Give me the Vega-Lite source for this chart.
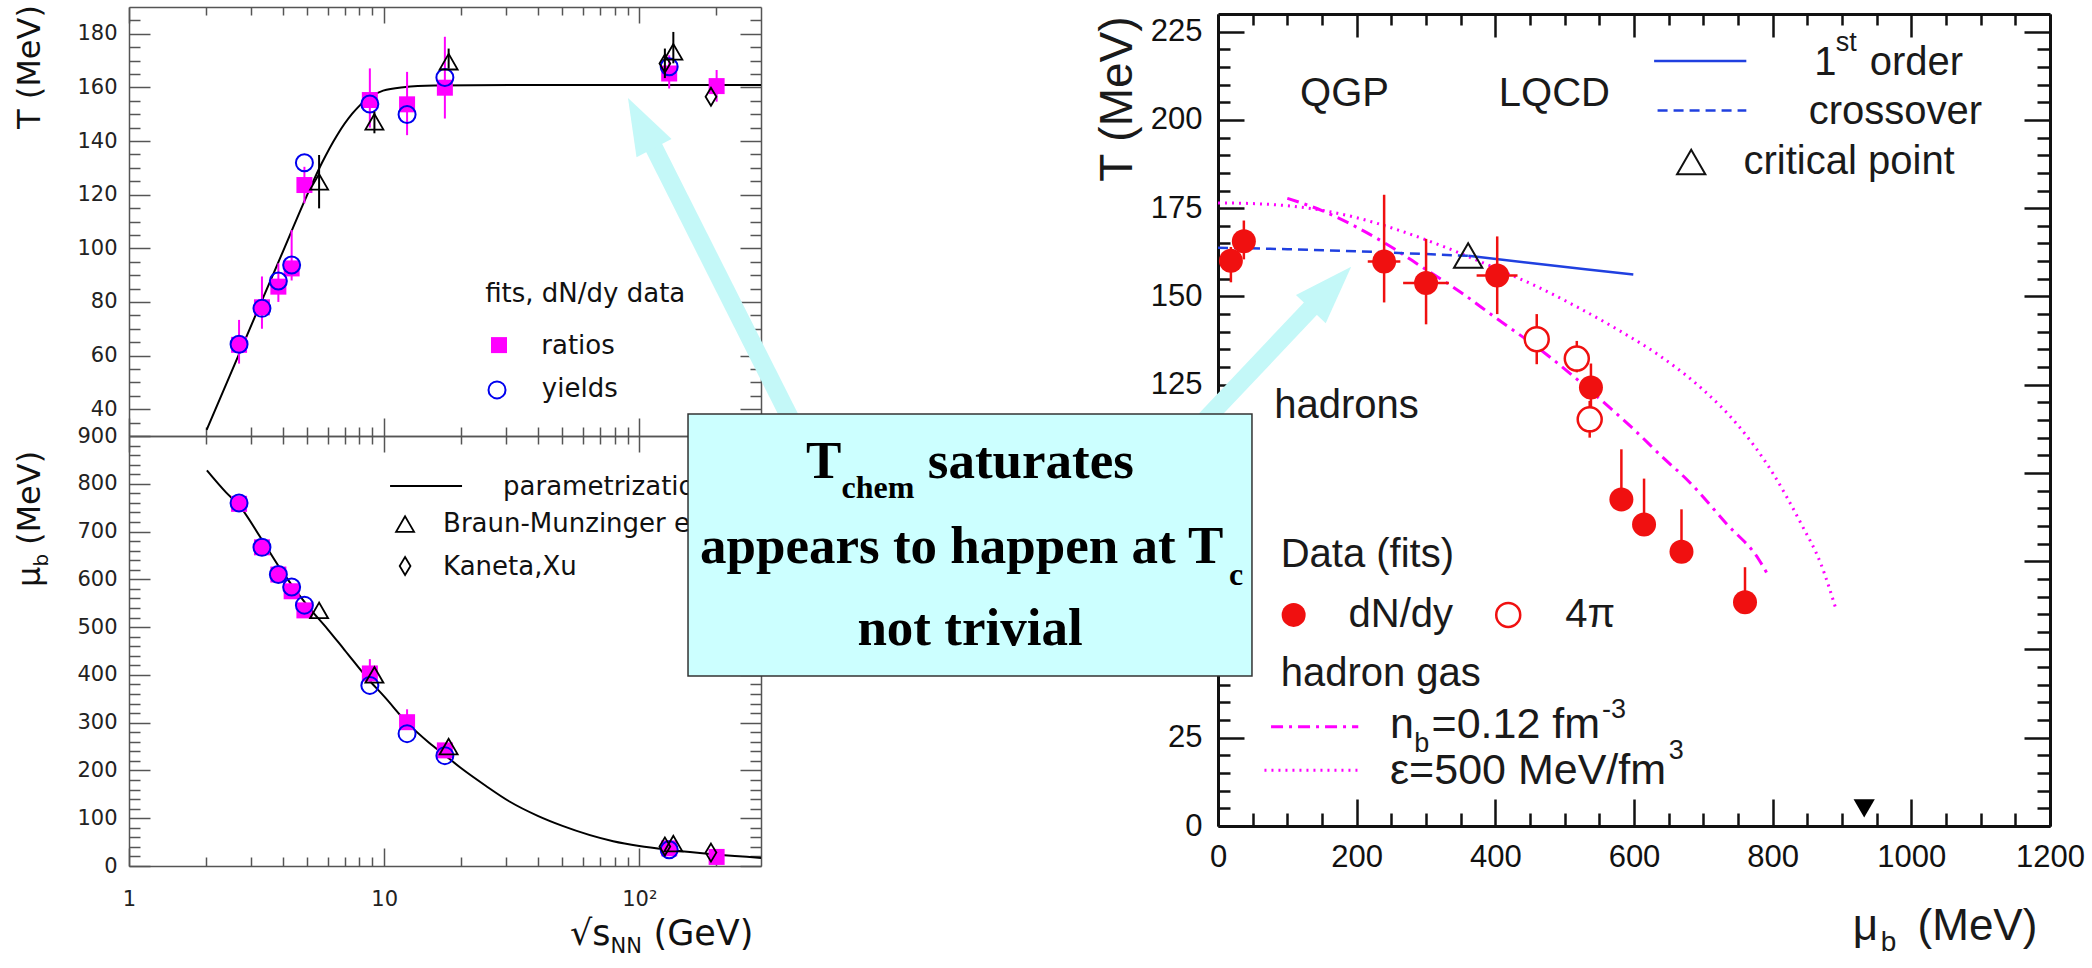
{
"$schema": "https://vega.github.io/schema/vega-lite/v6.json",
"width": 2092, "height": 968, "autosize": {"type": "none"}, "padding": 0, "background": "white",
"config": {"view": {"stroke": null}, "axis": {"grid": false, "labelFlush": false, "labelOverlap": false}},
"datasets": {
"tcurve": [{"s":2.016,"T":32.3},{"s":2.482,"T":52.4},{"s":3.126,"T":74.8},{"s":3.937,"T":97.0},{"s":4.96,"T":119.3},{"s":5.694,"T":131.7},{"s":6.542,"T":142.2},{"s":7.512,"T":150.3},{"s":8.628,"T":155.9},{"s":9.908,"T":158.8},{"s":11.92,"T":160.1},{"s":15.72,"T":160.7},{"s":31.5,"T":160.9},{"s":300,"T":160.9}],
"tratio": [{"s":2.70,"T":64.0,"lo":57,"hi":73.3},{"s":3.32,"T":78.0,"lo":70,"hi":89.5},{"s":3.85,"T":85.7,"lo":80,"hi":94.4},{"s":4.34,"T":92.5,"lo":88,"hi":106.8},{"s":4.87,"T":123.6,"lo":116.8,"hi":130.4},{"s":8.79,"T":155.3,"lo":145,"hi":167.1},{"s":12.3,"T":153.7,"lo":142.2,"hi":165.8},{"s":17.3,"T":159.9,"lo":148.4,"hi":178.9},{"s":131,"T":165.2,"lo":159.6,"hi":172},{"s":201,"T":160.5,"lo":154.7,"hi":166.5}],
"tyield": [{"s":2.70,"T":64.2},{"s":3.32,"T":77.6},{"s":3.85,"T":87.8},{"s":4.34,"T":93.8},{"s":4.87,"T":131.9},{"s":8.79,"T":153.8},{"s":12.3,"T":149.9},{"s":17.3,"T":163.7},{"s":131,"T":167.7}],
"tbm": [{"s":5.56,"T":124.8,"lo":114.9,"hi":134.8},{"s":9.16,"T":147.2,"lo":142.9,"hi":151},{"s":17.9,"T":169.6,"lo":167,"hi":174.5},{"s":136,"T":173.3,"lo":169,"hi":180.7}],
"tkx": [{"s":126,"T":168.9,"lo":163.5,"hi":174.5},{"s":191,"T":156.5,"lo":156.5,"hi":156.5}],
"mucurve": [{"s":2.02,"mu":828},{"s":2.4,"mu":782},{"s":2.7,"mu":755},{"s":3.3,"mu":685},{"s":4.0,"mu":615},{"s":5.0,"mu":545},{"s":6.0,"mu":496},{"s":7.0,"mu":452},{"s":8.8,"mu":387},{"s":10,"mu":355},{"s":12.3,"mu":300},{"s":15,"mu":258},{"s":17.3,"mu":232},{"s":20,"mu":205},{"s":25,"mu":168},{"s":31,"mu":135},{"s":40,"mu":105},{"s":50,"mu":84},{"s":79,"mu":52},{"s":100,"mu":42},{"s":130,"mu":34},{"s":200,"mu":24},{"s":300,"mu":17}],
"muratio": [{"s":2.70,"mu":758},{"s":3.32,"mu":667},{"s":3.85,"mu":610},{"s":4.34,"mu":575},{"s":4.87,"mu":535},{"s":8.79,"mu":403},{"s":12.3,"mu":301},{"s":17.3,"mu":242},{"s":131,"mu":37},{"s":201,"mu":19}],
"muratioerr": [{"s":2.70,"lo":745,"hi":775},{"s":8.79,"lo":385,"hi":433},{"s":12.3,"lo":285,"hi":328}],
"muyield": [{"s":2.70,"mu":760},{"s":3.32,"mu":667},{"s":3.85,"mu":610},{"s":4.34,"mu":584},{"s":4.87,"mu":546},{"s":8.79,"mu":378},{"s":12.3,"mu":277},{"s":17.3,"mu":231},{"s":131,"mu":34}],
"mubm": [{"s":5.56,"mu":535},{"s":9.16,"mu":400},{"s":17.9,"mu":250},{"s":136,"mu":47}],
"mukx": [{"s":126,"mu":41},{"s":191,"mu":28}],
"eps": [{"mu":0,"T":176.5},{"mu":50,"T":176.3},{"mu":100,"T":175.7},{"mu":150,"T":174.4},{"mu":200,"T":172.3},{"mu":260,"T":168.8},{"mu":323,"T":164.3},{"mu":400,"T":158.0},{"mu":460,"T":152.8},{"mu":520,"T":146.8},{"mu":580,"T":140.2},{"mu":640,"T":132.8},{"mu":700,"T":123.5},{"mu":750,"T":113.5},{"mu":800,"T":100.0},{"mu":840,"T":86.0},{"mu":870,"T":74.0},{"mu":892,"T":61.0}],
"nb": [{"mu":100,"T":177.8},{"mu":150,"T":174.3},{"mu":202,"T":169.4},{"mu":250,"T":164.0},{"mu":296,"T":158.1},{"mu":350,"T":151.2},{"mu":398,"T":144.3},{"mu":473,"T":133.7},{"mu":547,"T":121.6},{"mu":600,"T":112.3},{"mu":641,"T":104.5},{"mu":678,"T":97.8},{"mu":734,"T":85.5},{"mu":780,"T":75.5},{"mu":794,"T":70.8}],
"xover": [{"mu":0,"T":163.8},{"mu":100,"T":163.4},{"mu":200,"T":162.8},{"mu":300,"T":162.0},{"mu":361,"T":161.5}],
"first": [{"mu":361,"T":161.5},{"mu":454,"T":159.4},{"mu":530,"T":157.7},{"mu":599,"T":156.2}],
"dndy": [{"mu":18.6,"T":160.1,"lo":154.0,"hi":164.0},{"mu":37.3,"T":165.6,"lo":160.5,"hi":171.5},{"mu":239.6,"T":159.9,"lo":148.3,"hi":178.8},{"mu":300.1,"T":153.8,"lo":142.1,"hi":166.3},{"mu":402.7,"T":155.9,"lo":145.0,"hi":167.0},{"mu":537.9,"T":124.2,"lo":117.5,"hi":131.0},{"mu":581.8,"T":92.5,"lo":90.0,"hi":106.7},{"mu":614.5,"T":85.4,"lo":83.5,"hi":98.4},{"mu":668.5,"T":77.7,"lo":75.5,"hi":89.7},{"mu":760.1,"T":63.4,"lo":61.0,"hi":73.3}],
"dndyh": [{"mu":216,"mu2":263,"T":159.9},{"mu":267,"mu2":333,"T":153.8},{"mu":373,"mu2":432,"T":155.9},{"mu":745,"mu2":775,"T":63.4}],
"fourpi": [{"mu":459.7,"T":137.9,"lo":130.8,"hi":145.0},{"mu":517.5,"T":132.4,"lo":128.5,"hi":137.4},{"mu":536.1,"T":115.2,"lo":110.0,"hi":120.4}]
},
"resolve": {"scale": {"x": "independent", "y": "independent"}, "axis": {"x": "independent", "y": "independent"}},
"layer": [
{
"resolve": {"scale": {"x": "shared", "y": "shared"}, "axis": {"x": "independent", "y": "independent"}},
"layer": [
{"data": {"name": "tcurve"}, "mark": {"type": "line", "color": "#000", "strokeWidth": 2, "interpolate": "monotone"},
 "encoding": {
  "x": {"field": "s", "type": "quantitative", "scale": {"type": "log", "domain": [1, 300], "range": [129, 761], "nice": false},
        "axis": {"orient": "bottom", "offset": -532, "values": [1, 10, 100], "labels": false, "tickSize": -18, "tickColor": "#555", "tickWidth": 1.5, "domain": true, "domainColor": "#555", "domainWidth": 1.5, "title": null}},
  "y": {"field": "T", "type": "quantitative", "scale": {"domain": [30, 190], "range": [436, 7], "nice": false, "zero": false},
        "axis": {"orient": "left", "offset": -129, "values": [40, 60, 80, 100, 120, 140, 160, 180], "format": "d", "labelFont": "DejaVu Sans", "labelFontSize": 21, "labelColor": "#222", "labelPadding": 33, "tickSize": -21, "tickColor": "#555", "tickWidth": 1.5, "domain": true, "domainColor": "#555", "domainWidth": 1.5, "title": null}}}},
{"data": {"name": "tratio"}, "mark": {"type": "rule", "color": "#FF00FF", "strokeWidth": 2},
 "encoding": {
  "x": {"field": "s", "type": "quantitative", "scale": {"type": "log", "domain": [1, 300], "range": [129, 761], "nice": false},
        "axis": {"orient": "bottom", "offset": -532, "values": [2, 3, 4, 5, 6, 7, 8, 9, 20, 30, 40, 50, 60, 70, 80, 90, 200], "labels": false, "tickSize": -9, "tickColor": "#555", "tickWidth": 1.5, "domain": false, "title": null}},
  "y": {"field": "lo", "type": "quantitative", "scale": {"domain": [30, 190], "range": [436, 7], "nice": false, "zero": false},
        "axis": {"orient": "left", "offset": -129, "values": [35, 45, 50, 55, 65, 70, 75, 85, 90, 95, 105, 110, 115, 125, 130, 135, 145, 150, 155, 165, 170, 175, 185], "labels": false, "tickSize": -11, "tickColor": "#555", "tickWidth": 1.5, "domain": false, "title": null}},
  "y2": {"field": "hi"}}},
{"data": {"name": "tratio"}, "mark": {"type": "point", "shape": "square", "size": 256, "filled": true, "color": "#FF00FF", "opacity": 1},
 "encoding": {
  "x": {"field": "s", "type": "quantitative", "scale": {"type": "log", "domain": [1, 300], "range": [129, 761], "nice": false},
        "axis": {"orient": "top", "offset": -7, "values": [1, 10, 100], "labels": false, "tickSize": -16, "tickColor": "#555", "tickWidth": 1.5, "domain": true, "domainColor": "#555", "domainWidth": 1.5, "title": null}},
  "y": {"field": "T", "type": "quantitative", "scale": {"domain": [30, 190], "range": [436, 7], "nice": false, "zero": false},
        "axis": {"orient": "right", "offset": -1331, "values": [40, 60, 80, 100, 120, 140, 160, 180], "labels": false, "tickSize": -21, "tickColor": "#555", "tickWidth": 1.5, "domain": true, "domainColor": "#555", "domainWidth": 1.5, "title": null}}}},
{"data": {"name": "tyield"}, "mark": {"type": "point", "shape": "circle", "size": 289, "filled": false, "color": "#0000EE", "strokeWidth": 2, "opacity": 1},
 "encoding": {
  "x": {"field": "s", "type": "quantitative", "scale": {"type": "log", "domain": [1, 300], "range": [129, 761], "nice": false},
        "axis": {"orient": "top", "offset": -7, "values": [2, 3, 4, 5, 6, 7, 8, 9, 20, 30, 40, 50, 60, 70, 80, 90, 200], "labels": false, "tickSize": -8, "tickColor": "#555", "tickWidth": 1.5, "domain": false, "title": null}},
  "y": {"field": "T", "type": "quantitative", "scale": {"domain": [30, 190], "range": [436, 7], "nice": false, "zero": false},
        "axis": {"orient": "right", "offset": -1331, "values": [35, 45, 50, 55, 65, 70, 75, 85, 90, 95, 105, 110, 115, 125, 130, 135, 145, 150, 155, 165, 170, 175, 185], "labels": false, "tickSize": -11, "tickColor": "#555", "tickWidth": 1.5, "domain": false, "title": null}}}},
{"data": {"name": "tbm"}, "mark": {"type": "rule", "color": "#000", "strokeWidth": 2},
 "encoding": {
  "x": {"field": "s", "type": "quantitative", "scale": {"type": "log", "domain": [1, 300], "range": [129, 761], "nice": false}, "axis": null},
  "y": {"field": "lo", "type": "quantitative", "scale": {"domain": [30, 190], "range": [436, 7], "nice": false, "zero": false}, "axis": null},
  "y2": {"field": "hi"}}},
{"data": {"name": "tbm"}, "mark": {"type": "point", "shape": "triangle-up", "size": 324, "filled": false, "color": "#000", "strokeWidth": 1.8, "opacity": 1},
 "encoding": {
  "x": {"field": "s", "type": "quantitative", "scale": {"type": "log", "domain": [1, 300], "range": [129, 761], "nice": false}, "axis": null},
  "y": {"field": "T", "type": "quantitative", "scale": {"domain": [30, 190], "range": [436, 7], "nice": false, "zero": false}, "axis": null}}},
{"data": {"name": "tkx"}, "mark": {"type": "rule", "color": "#000", "strokeWidth": 2},
 "encoding": {
  "x": {"field": "s", "type": "quantitative", "scale": {"type": "log", "domain": [1, 300], "range": [129, 761], "nice": false}, "axis": null},
  "y": {"field": "lo", "type": "quantitative", "scale": {"domain": [30, 190], "range": [436, 7], "nice": false, "zero": false}, "axis": null},
  "y2": {"field": "hi"}}},
{"data": {"name": "tkx"}, "mark": {"type": "point", "shape": "M0,-1L0.6,0L0,1L-0.6,0Z", "size": 324, "filled": false, "color": "#000", "strokeWidth": 1.8, "opacity": 1},
 "encoding": {
  "x": {"field": "s", "type": "quantitative", "scale": {"type": "log", "domain": [1, 300], "range": [129, 761], "nice": false}, "axis": null},
  "y": {"field": "T", "type": "quantitative", "scale": {"domain": [30, 190], "range": [436, 7], "nice": false, "zero": false}, "axis": null}}},
{"data": {"values": [{"s": 24.9, "T": 80.0, "label": "fits, dN/dy data"}, {"s": 41.3, "T": 60.6, "label": "ratios"}, {"s": 41.5, "T": 44.5, "label": "yields"}]},
 "mark": {"type": "text", "align": "left", "baseline": "alphabetic", "font": "DejaVu Sans", "fontSize": 26, "color": "#111"},
 "encoding": {
  "x": {"field": "s", "type": "quantitative", "scale": {"type": "log", "domain": [1, 300], "range": [129, 761], "nice": false}, "axis": null},
  "y": {"field": "T", "type": "quantitative", "scale": {"domain": [30, 190], "range": [436, 7], "nice": false, "zero": false}, "axis": null},
  "text": {"field": "label"}}},
{"data": {"values": [{"s": 28.2, "T": 63.9}]}, "mark": {"type": "point", "shape": "square", "size": 256, "filled": true, "color": "#FF00FF", "opacity": 1},
 "encoding": {
  "x": {"field": "s", "type": "quantitative", "scale": {"type": "log", "domain": [1, 300], "range": [129, 761], "nice": false}, "axis": null},
  "y": {"field": "T", "type": "quantitative", "scale": {"domain": [30, 190], "range": [436, 7], "nice": false, "zero": false}, "axis": null}}},
{"data": {"values": [{"s": 27.7, "T": 47.2}]}, "mark": {"type": "point", "shape": "circle", "size": 289, "filled": false, "color": "#0000EE", "strokeWidth": 2, "opacity": 1},
 "encoding": {
  "x": {"field": "s", "type": "quantitative", "scale": {"type": "log", "domain": [1, 300], "range": [129, 761], "nice": false}, "axis": null},
  "y": {"field": "T", "type": "quantitative", "scale": {"domain": [30, 190], "range": [436, 7], "nice": false, "zero": false}, "axis": null}}},
{"data": {"values": [{"s": 0.4478, "T": 167.6, "label": "T (MeV)"}]},
 "mark": {"type": "text", "align": "center", "baseline": "alphabetic", "angle": 270, "font": "DejaVu Sans", "fontSize": 32, "color": "#111"},
 "encoding": {
  "x": {"field": "s", "type": "quantitative", "scale": {"type": "log", "domain": [1, 300], "range": [129, 761], "nice": false}, "axis": null},
  "y": {"field": "T", "type": "quantitative", "scale": {"domain": [30, 190], "range": [436, 7], "nice": false, "zero": false}, "axis": null},
  "text": {"field": "label"}}}
]
},
{
"resolve": {"scale": {"x": "shared", "y": "shared"}, "axis": {"x": "independent", "y": "independent"}},
"layer": [
{"data": {"name": "mucurve"}, "mark": {"type": "line", "color": "#000", "strokeWidth": 2, "interpolate": "monotone"},
 "encoding": {
  "x": {"field": "s", "type": "quantitative", "scale": {"type": "log", "domain": [1, 300], "range": [129, 761], "nice": false},
        "axis": {"orient": "bottom", "offset": -102, "values": [1, 10, 100], "labelExpr": "datum.value == 100 ? '10²' : format(datum.value, 'd')", "labelFont": "DejaVu Sans", "labelFontSize": 21, "labelColor": "#222", "labelPadding": 40, "tickSize": -18, "tickColor": "#555", "tickWidth": 1.5, "domain": true, "domainColor": "#555", "domainWidth": 1.5, "title": null}},
  "y": {"field": "mu", "type": "quantitative", "scale": {"domain": [0, 900], "range": [866, 436], "nice": false, "zero": false},
        "axis": {"orient": "left", "offset": -129, "values": [0, 100, 200, 300, 400, 500, 600, 700, 800, 900], "format": "d", "labelFont": "DejaVu Sans", "labelFontSize": 21, "labelColor": "#222", "labelPadding": 33, "tickSize": -21, "tickColor": "#555", "tickWidth": 1.5, "domain": true, "domainColor": "#555", "domainWidth": 1.5, "title": null}}}},
{"data": {"name": "muratioerr"}, "mark": {"type": "rule", "color": "#FF00FF", "strokeWidth": 2},
 "encoding": {
  "x": {"field": "s", "type": "quantitative", "scale": {"type": "log", "domain": [1, 300], "range": [129, 761], "nice": false},
        "axis": {"orient": "bottom", "offset": -102, "values": [2, 3, 4, 5, 6, 7, 8, 9, 20, 30, 40, 50, 60, 70, 80, 90, 200], "labels": false, "tickSize": -9, "tickColor": "#555", "tickWidth": 1.5, "domain": false, "title": null}},
  "y": {"field": "lo", "type": "quantitative", "scale": {"domain": [0, 900], "range": [866, 436], "nice": false, "zero": false},
        "axis": {"orient": "left", "offset": -129, "values": [20, 40, 60, 80, 120, 140, 160, 180, 220, 240, 260, 280, 320, 340, 360, 380, 420, 440, 460, 480, 520, 540, 560, 580, 620, 640, 660, 680, 720, 740, 760, 780, 820, 840, 860, 880], "labels": false, "tickSize": -11, "tickColor": "#555", "tickWidth": 1.5, "domain": false, "title": null}},
  "y2": {"field": "hi"}}},
{"data": {"name": "muratio"}, "mark": {"type": "point", "shape": "square", "size": 256, "filled": true, "color": "#FF00FF", "opacity": 1},
 "encoding": {
  "x": {"field": "s", "type": "quantitative", "scale": {"type": "log", "domain": [1, 300], "range": [129, 761], "nice": false},
        "axis": {"orient": "top", "offset": -436, "values": [1, 10, 100], "labels": false, "tickSize": -16, "tickColor": "#555", "tickWidth": 1.5, "domain": true, "domainColor": "#555", "domainWidth": 1.5, "title": null}},
  "y": {"field": "mu", "type": "quantitative", "scale": {"domain": [0, 900], "range": [866, 436], "nice": false, "zero": false},
        "axis": {"orient": "right", "offset": -1331, "values": [0, 100, 200, 300, 400, 500, 600, 700, 800, 900], "labels": false, "tickSize": -21, "tickColor": "#555", "tickWidth": 1.5, "domain": true, "domainColor": "#555", "domainWidth": 1.5, "title": null}}}},
{"data": {"name": "muyield"}, "mark": {"type": "point", "shape": "circle", "size": 289, "filled": false, "color": "#0000EE", "strokeWidth": 2, "opacity": 1},
 "encoding": {
  "x": {"field": "s", "type": "quantitative", "scale": {"type": "log", "domain": [1, 300], "range": [129, 761], "nice": false},
        "axis": {"orient": "top", "offset": -436, "values": [2, 3, 4, 5, 6, 7, 8, 9, 20, 30, 40, 50, 60, 70, 80, 90, 200], "labels": false, "tickSize": -8, "tickColor": "#555", "tickWidth": 1.5, "domain": false, "title": null}},
  "y": {"field": "mu", "type": "quantitative", "scale": {"domain": [0, 900], "range": [866, 436], "nice": false, "zero": false},
        "axis": {"orient": "right", "offset": -1331, "values": [20, 40, 60, 80, 120, 140, 160, 180, 220, 240, 260, 280, 320, 340, 360, 380, 420, 440, 460, 480, 520, 540, 560, 580, 620, 640, 660, 680, 720, 740, 760, 780, 820, 840, 860, 880], "labels": false, "tickSize": -11, "tickColor": "#555", "tickWidth": 1.5, "domain": false, "title": null}}}},
{"data": {"name": "mubm"}, "mark": {"type": "point", "shape": "triangle-up", "size": 324, "filled": false, "color": "#000", "strokeWidth": 1.8, "opacity": 1},
 "encoding": {
  "x": {"field": "s", "type": "quantitative", "scale": {"type": "log", "domain": [1, 300], "range": [129, 761], "nice": false}, "axis": null},
  "y": {"field": "mu", "type": "quantitative", "scale": {"domain": [0, 900], "range": [866, 436], "nice": false, "zero": false}, "axis": null}}},
{"data": {"name": "mukx"}, "mark": {"type": "point", "shape": "M0,-1L0.6,0L0,1L-0.6,0Z", "size": 324, "filled": false, "color": "#000", "strokeWidth": 1.8, "opacity": 1},
 "encoding": {
  "x": {"field": "s", "type": "quantitative", "scale": {"type": "log", "domain": [1, 300], "range": [129, 761], "nice": false}, "axis": null},
  "y": {"field": "mu", "type": "quantitative", "scale": {"domain": [0, 900], "range": [866, 436], "nice": false, "zero": false}, "axis": null}}},
{"data": {"values": [{"s": 10.55, "s2": 20.2, "mu": 795.3}]}, "mark": {"type": "rule", "color": "#000", "strokeWidth": 2},
 "encoding": {
  "x": {"field": "s", "type": "quantitative", "scale": {"type": "log", "domain": [1, 300], "range": [129, 761], "nice": false}, "axis": null},
  "x2": {"field": "s2"},
  "y": {"field": "mu", "type": "quantitative", "scale": {"domain": [0, 900], "range": [866, 436], "nice": false, "zero": false}, "axis": null}}},
{"data": {"values": [{"s": 12.08, "mu": 715.8}]}, "mark": {"type": "point", "shape": "triangle-up", "size": 324, "filled": false, "color": "#000", "strokeWidth": 1.8, "opacity": 1},
 "encoding": {
  "x": {"field": "s", "type": "quantitative", "scale": {"type": "log", "domain": [1, 300], "range": [129, 761], "nice": false}, "axis": null},
  "y": {"field": "mu", "type": "quantitative", "scale": {"domain": [0, 900], "range": [866, 436], "nice": false, "zero": false}, "axis": null}}},
{"data": {"values": [{"s": 12.08, "mu": 627.9}]}, "mark": {"type": "point", "shape": "M0,-1L0.6,0L0,1L-0.6,0Z", "size": 324, "filled": false, "color": "#000", "strokeWidth": 1.8, "opacity": 1},
 "encoding": {
  "x": {"field": "s", "type": "quantitative", "scale": {"type": "log", "domain": [1, 300], "range": [129, 761], "nice": false}, "axis": null},
  "y": {"field": "mu", "type": "quantitative", "scale": {"domain": [0, 900], "range": [866, 436], "nice": false, "zero": false}, "axis": null}}},
{"data": {"values": [{"s": 29.25, "mu": 776.5, "label": "parametrization"}, {"s": 17.02, "mu": 699.1, "label": "Braun-Munzinger et al."}, {"s": 17.02, "mu": 609.1, "label": "Kaneta,Xu"}]},
 "mark": {"type": "text", "align": "left", "baseline": "alphabetic", "font": "DejaVu Sans", "fontSize": 26, "color": "#111"},
 "encoding": {
  "x": {"field": "s", "type": "quantitative", "scale": {"type": "log", "domain": [1, 300], "range": [129, 761], "nice": false}, "axis": null},
  "y": {"field": "mu", "type": "quantitative", "scale": {"domain": [0, 900], "range": [866, 436], "nice": false, "zero": false}, "axis": null},
  "text": {"field": "label"}}},
{"data": {"values": [{"s": 0.4478, "mu": 584.0, "label": "μ"}, {"s": 0.4478, "mu": 671.9, "label": "(MeV)"}]},
 "mark": {"type": "text", "align": "left", "baseline": "alphabetic", "angle": 270, "font": "DejaVu Sans", "fontSize": 32, "color": "#111"},
 "encoding": {
  "x": {"field": "s", "type": "quantitative", "scale": {"type": "log", "domain": [1, 300], "range": [129, 761], "nice": false}, "axis": null},
  "y": {"field": "mu", "type": "quantitative", "scale": {"domain": [0, 900], "range": [866, 436], "nice": false, "zero": false}, "axis": null},
  "text": {"field": "label"}}},
{"data": {"values": [{"s": 0.4815, "mu": 626.6, "label": "b"}]},
 "mark": {"type": "text", "align": "left", "baseline": "alphabetic", "angle": 270, "font": "DejaVu Sans", "fontSize": 20, "color": "#111"},
 "encoding": {
  "x": {"field": "s", "type": "quantitative", "scale": {"type": "log", "domain": [1, 300], "range": [129, 761], "nice": false}, "axis": null},
  "y": {"field": "mu", "type": "quantitative", "scale": {"domain": [0, 900], "range": [866, 436], "nice": false, "zero": false}, "axis": null},
  "text": {"field": "label"}}},
{"data": {"values": [{"s": 53.55, "mu": -165.3, "label": "√s"}, {"s": 113.7, "mu": -165.3, "label": "(GeV)"}]},
 "mark": {"type": "text", "align": "left", "baseline": "alphabetic", "font": "DejaVu Sans", "fontSize": 35, "color": "#111"},
 "encoding": {
  "x": {"field": "s", "type": "quantitative", "scale": {"type": "log", "domain": [1, 300], "range": [129, 761], "nice": false}, "axis": null},
  "y": {"field": "mu", "type": "quantitative", "scale": {"domain": [0, 900], "range": [866, 436], "nice": false, "zero": false}, "axis": null},
  "text": {"field": "label"}}},
{"data": {"values": [{"s": 77.2, "mu": -182.1, "label": "NN"}]},
 "mark": {"type": "text", "align": "left", "baseline": "alphabetic", "font": "DejaVu Sans", "fontSize": 21, "color": "#111"},
 "encoding": {
  "x": {"field": "s", "type": "quantitative", "scale": {"type": "log", "domain": [1, 300], "range": [129, 761], "nice": false}, "axis": null},
  "y": {"field": "mu", "type": "quantitative", "scale": {"domain": [0, 900], "range": [866, 436], "nice": false, "zero": false}, "axis": null},
  "text": {"field": "label"}}}
]
},
{
"resolve": {"scale": {"x": "shared", "y": "shared"}, "axis": {"x": "independent", "y": "independent"}},
"layer": [
{"data": {"name": "eps"}, "mark": {"type": "line", "color": "#FF00FF", "strokeWidth": 3, "strokeDash": [2, 5], "interpolate": "monotone"},
 "encoding": {
  "x": {"field": "mu", "type": "quantitative", "scale": {"domain": [0, 1200], "range": [1218, 2050], "nice": false, "zero": false},
        "axis": {"orient": "bottom", "offset": -142, "values": [0, 200, 400, 600, 800, 1000, 1200], "format": "d", "labelFont": "Liberation Sans", "labelFontSize": 31, "labelColor": "#111", "labelPadding": 43, "tickSize": -27, "tickColor": "#111", "tickWidth": 2.5, "domain": true, "domainColor": "#111", "domainWidth": 3, "title": null}},
  "y": {"field": "T", "type": "quantitative", "scale": {"domain": [0, 230], "range": [826, 14], "nice": false, "zero": false},
        "axis": {"orient": "left", "offset": -1218, "values": [0, 25, 125, 150, 175, 200, 225], "format": "d", "labelFont": "Liberation Sans", "labelFontSize": 31, "labelColor": "#111", "labelPadding": 42, "tickSize": -26, "tickColor": "#111", "tickWidth": 2.5, "domain": true, "domainColor": "#111", "domainWidth": 3, "title": null}}}},
{"data": {"name": "nb"}, "mark": {"type": "line", "color": "#FF00FF", "strokeWidth": 3, "strokeDash": [12, 6, 3, 6], "interpolate": "monotone"},
 "encoding": {
  "x": {"field": "mu", "type": "quantitative", "scale": {"domain": [0, 1200], "range": [1218, 2050], "nice": false, "zero": false},
        "axis": {"orient": "bottom", "offset": -142, "values": [50, 100, 150, 250, 300, 350, 450, 500, 550, 650, 700, 750, 850, 900, 950, 1050, 1100, 1150], "labels": false, "tickSize": -13, "tickColor": "#111", "tickWidth": 2.5, "domain": false, "title": null}},
  "y": {"field": "T", "type": "quantitative", "scale": {"domain": [0, 230], "range": [826, 14], "nice": false, "zero": false},
        "axis": {"orient": "left", "offset": -1218, "values": [5, 10, 15, 20, 30, 35, 40, 120, 130, 135, 140, 145, 155, 160, 165, 170, 180, 185, 190, 195, 205, 210, 215, 220], "labels": false, "tickSize": -12, "tickColor": "#111", "tickWidth": 2.5, "domain": false, "title": null}}}},
{"data": {"name": "xover"}, "mark": {"type": "line", "color": "#2040E0", "strokeWidth": 2.5, "strokeDash": [10, 6]},
 "encoding": {
  "x": {"field": "mu", "type": "quantitative", "scale": {"domain": [0, 1200], "range": [1218, 2050], "nice": false, "zero": false},
        "axis": {"orient": "top", "offset": -14, "values": [0, 200, 400, 600, 800, 1000, 1200], "labels": false, "tickSize": -23, "tickColor": "#111", "tickWidth": 2.5, "domain": true, "domainColor": "#111", "domainWidth": 3, "title": null}},
  "y": {"field": "T", "type": "quantitative", "scale": {"domain": [0, 230], "range": [826, 14], "nice": false, "zero": false},
        "axis": {"orient": "right", "offset": -42, "values": [0, 25, 50, 75, 100, 125, 150, 175, 200, 225], "labels": false, "tickSize": -26, "tickColor": "#111", "tickWidth": 2.5, "domain": true, "domainColor": "#111", "domainWidth": 3, "title": null}}}},
{"data": {"name": "first"}, "mark": {"type": "line", "color": "#2040E0", "strokeWidth": 2.5},
 "encoding": {
  "x": {"field": "mu", "type": "quantitative", "scale": {"domain": [0, 1200], "range": [1218, 2050], "nice": false, "zero": false},
        "axis": {"orient": "top", "offset": -14, "values": [50, 100, 150, 250, 300, 350, 450, 500, 550, 650, 700, 750, 850, 900, 950, 1050, 1100, 1150], "labels": false, "tickSize": -11, "tickColor": "#111", "tickWidth": 2.5, "domain": false, "title": null}},
  "y": {"field": "T", "type": "quantitative", "scale": {"domain": [0, 230], "range": [826, 14], "nice": false, "zero": false},
        "axis": {"orient": "right", "offset": -42, "values": [5, 10, 15, 20, 30, 35, 40, 45, 55, 60, 65, 70, 80, 85, 90, 95, 105, 110, 115, 120, 130, 135, 140, 145, 155, 160, 165, 170, 180, 185, 190, 195, 205, 210, 215, 220], "labels": false, "tickSize": -13, "tickColor": "#111", "tickWidth": 2.5, "domain": false, "title": null}}}},
{"data": {"name": "dndy"}, "mark": {"type": "rule", "color": "#F01010", "strokeWidth": 2.5},
 "encoding": {
  "x": {"field": "mu", "type": "quantitative", "scale": {"domain": [0, 1200], "range": [1218, 2050], "nice": false, "zero": false}, "axis": null},
  "y": {"field": "lo", "type": "quantitative", "scale": {"domain": [0, 230], "range": [826, 14], "nice": false, "zero": false}, "axis": null},
  "y2": {"field": "hi"}}},
{"data": {"name": "fourpi"}, "mark": {"type": "rule", "color": "#F01010", "strokeWidth": 2.5},
 "encoding": {
  "x": {"field": "mu", "type": "quantitative", "scale": {"domain": [0, 1200], "range": [1218, 2050], "nice": false, "zero": false}, "axis": null},
  "y": {"field": "lo", "type": "quantitative", "scale": {"domain": [0, 230], "range": [826, 14], "nice": false, "zero": false}, "axis": null},
  "y2": {"field": "hi"}}},
{"data": {"name": "dndyh"}, "mark": {"type": "rule", "color": "#F01010", "strokeWidth": 2.5},
 "encoding": {
  "x": {"field": "mu", "type": "quantitative", "scale": {"domain": [0, 1200], "range": [1218, 2050], "nice": false, "zero": false}, "axis": null},
  "x2": {"field": "mu2"},
  "y": {"field": "T", "type": "quantitative", "scale": {"domain": [0, 230], "range": [826, 14], "nice": false, "zero": false}, "axis": null}}},
{"data": {"name": "dndy"}, "mark": {"type": "point", "shape": "circle", "size": 576, "filled": true, "color": "#F01010", "opacity": 1},
 "encoding": {
  "x": {"field": "mu", "type": "quantitative", "scale": {"domain": [0, 1200], "range": [1218, 2050], "nice": false, "zero": false}, "axis": null},
  "y": {"field": "T", "type": "quantitative", "scale": {"domain": [0, 230], "range": [826, 14], "nice": false, "zero": false}, "axis": null}}},
{"data": {"name": "fourpi"}, "mark": {"type": "point", "shape": "circle", "size": 576, "filled": false, "fill": "white", "color": "#F01010", "strokeWidth": 2.5, "opacity": 1},
 "encoding": {
  "x": {"field": "mu", "type": "quantitative", "scale": {"domain": [0, 1200], "range": [1218, 2050], "nice": false, "zero": false}, "axis": null},
  "y": {"field": "T", "type": "quantitative", "scale": {"domain": [0, 230], "range": [826, 14], "nice": false, "zero": false}, "axis": null}}},
{"data": {"values": [{"mu": 360.8, "T": 161.6}, {"mu": 682.5, "T": 188.1}]}, "mark": {"type": "point", "shape": "triangle-up", "size": 800, "filled": false, "color": "#111", "strokeWidth": 2, "opacity": 1},
 "encoding": {
  "x": {"field": "mu", "type": "quantitative", "scale": {"domain": [0, 1200], "range": [1218, 2050], "nice": false, "zero": false}, "axis": null},
  "y": {"field": "T", "type": "quantitative", "scale": {"domain": [0, 230], "range": [826, 14], "nice": false, "zero": false}, "axis": null}}},
{"data": {"values": [{"mu": 932, "T": 5}]}, "mark": {"type": "point", "shape": "triangle-down", "size": 450, "filled": true, "color": "#000", "opacity": 1},
 "encoding": {
  "x": {"field": "mu", "type": "quantitative", "scale": {"domain": [0, 1200], "range": [1218, 2050], "nice": false, "zero": false}, "axis": null},
  "y": {"field": "T", "type": "quantitative", "scale": {"domain": [0, 230], "range": [826, 14], "nice": false, "zero": false}, "axis": null}}},
{"data": {"values": [{"mu": 629, "mu2": 762, "T": 216.7}]}, "mark": {"type": "rule", "color": "#2040E0", "strokeWidth": 2.5},
 "encoding": {
  "x": {"field": "mu", "type": "quantitative", "scale": {"domain": [0, 1200], "range": [1218, 2050], "nice": false, "zero": false}, "axis": null},
  "x2": {"field": "mu2"},
  "y": {"field": "T", "type": "quantitative", "scale": {"domain": [0, 230], "range": [826, 14], "nice": false, "zero": false}, "axis": null}}},
{"data": {"values": [{"mu": 634, "mu2": 762, "T": 202.7}]}, "mark": {"type": "rule", "color": "#2040E0", "strokeWidth": 2.5, "strokeDash": [10, 6]},
 "encoding": {
  "x": {"field": "mu", "type": "quantitative", "scale": {"domain": [0, 1200], "range": [1218, 2050], "nice": false, "zero": false}, "axis": null},
  "x2": {"field": "mu2"},
  "y": {"field": "T", "type": "quantitative", "scale": {"domain": [0, 230], "range": [826, 14], "nice": false, "zero": false}, "axis": null}}},
{"data": {"values": [{"mu": 76.5, "mu2": 202.3, "T": 28.1}]}, "mark": {"type": "rule", "color": "#FF00FF", "strokeWidth": 3, "strokeDash": [12, 6, 3, 6]},
 "encoding": {
  "x": {"field": "mu", "type": "quantitative", "scale": {"domain": [0, 1200], "range": [1218, 2050], "nice": false, "zero": false}, "axis": null},
  "x2": {"field": "mu2"},
  "y": {"field": "T", "type": "quantitative", "scale": {"domain": [0, 230], "range": [826, 14], "nice": false, "zero": false}, "axis": null}}},
{"data": {"values": [{"mu": 67, "mu2": 202.3, "T": 15.8}]}, "mark": {"type": "rule", "color": "#FF00FF", "strokeWidth": 3, "strokeDash": [2, 5]},
 "encoding": {
  "x": {"field": "mu", "type": "quantitative", "scale": {"domain": [0, 1200], "range": [1218, 2050], "nice": false, "zero": false}, "axis": null},
  "x2": {"field": "mu2"},
  "y": {"field": "T", "type": "quantitative", "scale": {"domain": [0, 230], "range": [826, 14], "nice": false, "zero": false}, "axis": null}}},
{"data": {"values": [{"mu": 109.1, "T": 59.8}]}, "mark": {"type": "point", "shape": "circle", "size": 576, "filled": true, "color": "#F01010", "opacity": 1},
 "encoding": {
  "x": {"field": "mu", "type": "quantitative", "scale": {"domain": [0, 1200], "range": [1218, 2050], "nice": false, "zero": false}, "axis": null},
  "y": {"field": "T", "type": "quantitative", "scale": {"domain": [0, 230], "range": [826, 14], "nice": false, "zero": false}, "axis": null}}},
{"data": {"values": [{"mu": 418.6, "T": 59.8}]}, "mark": {"type": "point", "shape": "circle", "size": 576, "filled": false, "color": "#F01010", "strokeWidth": 2.5, "opacity": 1},
 "encoding": {
  "x": {"field": "mu", "type": "quantitative", "scale": {"domain": [0, 1200], "range": [1218, 2050], "nice": false, "zero": false}, "axis": null},
  "y": {"field": "T", "type": "quantitative", "scale": {"domain": [0, 230], "range": [826, 14], "nice": false, "zero": false}, "axis": null}}},
{"data": {"values": [{"mu": 118.4, "T": 204, "label": "QGP"}, {"mu": 405, "T": 204, "label": "LQCD"}, {"mu": 860, "T": 212.7, "label": "1"}, {"mu": 940, "T": 212.7, "label": "order"}, {"mu": 852, "T": 198.8, "label": "crossover"}, {"mu": 758, "T": 184.8, "label": "critical point"}, {"mu": 81.1, "T": 115.6, "label": "hadrons"}, {"mu": 90.4, "T": 73.4, "label": "Data (fits)"}, {"mu": 188.3, "T": 56.5, "label": "dN/dy"}, {"mu": 500.7, "T": 56.5, "label": "4π"}, {"mu": 90.4, "T": 39.7, "label": "hadron gas"}]},
 "mark": {"type": "text", "align": "left", "baseline": "alphabetic", "font": "Liberation Sans", "fontSize": 40, "color": "#1a1a1a"},
 "encoding": {
  "x": {"field": "mu", "type": "quantitative", "scale": {"domain": [0, 1200], "range": [1218, 2050], "nice": false, "zero": false}, "axis": null},
  "y": {"field": "T", "type": "quantitative", "scale": {"domain": [0, 230], "range": [826, 14], "nice": false, "zero": false}, "axis": null},
  "text": {"field": "label"}}},
{"data": {"values": [{"mu": 248, "T": 24.8, "label": "n"}, {"mu": 308, "T": 24.8, "label": "=0.12 fm"}, {"mu": 248, "T": 12.0, "label": "ε=500 MeV/fm"}]},
 "mark": {"type": "text", "align": "left", "baseline": "alphabetic", "font": "Liberation Sans", "fontSize": 43, "color": "#1a1a1a"},
 "encoding": {
  "x": {"field": "mu", "type": "quantitative", "scale": {"domain": [0, 1200], "range": [1218, 2050], "nice": false, "zero": false}, "axis": null},
  "y": {"field": "T", "type": "quantitative", "scale": {"domain": [0, 230], "range": [826, 14], "nice": false, "zero": false}, "axis": null},
  "text": {"field": "label"}}},
{"data": {"values": [{"mu": 891, "T": 219.5, "label": "st"}, {"mu": 283, "T": 21.0, "label": "b"}, {"mu": 554, "T": 30.5, "label": "-3"}, {"mu": 650, "T": 19.0, "label": "3"}]},
 "mark": {"type": "text", "align": "left", "baseline": "alphabetic", "font": "Liberation Sans", "fontSize": 27, "color": "#1a1a1a"},
 "encoding": {
  "x": {"field": "mu", "type": "quantitative", "scale": {"domain": [0, 1200], "range": [1218, 2050], "nice": false, "zero": false}, "axis": null},
  "y": {"field": "T", "type": "quantitative", "scale": {"domain": [0, 230], "range": [826, 14], "nice": false, "zero": false}, "axis": null},
  "text": {"field": "label"}}},
{"data": {"values": [{"mu": -124.0, "T": 205.9, "label": "T (MeV)"}]},
 "mark": {"type": "text", "align": "center", "baseline": "alphabetic", "angle": 270, "font": "Liberation Sans", "fontSize": 46, "color": "#1a1a1a"},
 "encoding": {
  "x": {"field": "mu", "type": "quantitative", "scale": {"domain": [0, 1200], "range": [1218, 2050], "nice": false, "zero": false}, "axis": null},
  "y": {"field": "T", "type": "quantitative", "scale": {"domain": [0, 230], "range": [826, 14], "nice": false, "zero": false}, "axis": null},
  "text": {"field": "label"}}},
{"data": {"values": [{"mu": 915.6, "T": -32.3, "label": "μ"}, {"mu": 1009, "T": -32.3, "label": "(MeV)"}]},
 "mark": {"type": "text", "align": "left", "baseline": "alphabetic", "font": "Liberation Sans", "fontSize": 44, "color": "#1a1a1a"},
 "encoding": {
  "x": {"field": "mu", "type": "quantitative", "scale": {"domain": [0, 1200], "range": [1218, 2050], "nice": false, "zero": false}, "axis": null},
  "y": {"field": "T", "type": "quantitative", "scale": {"domain": [0, 230], "range": [826, 14], "nice": false, "zero": false}, "axis": null},
  "text": {"field": "label"}}},
{"data": {"values": [{"mu": 956, "T": -35.5, "label": "b"}]},
 "mark": {"type": "text", "align": "left", "baseline": "alphabetic", "font": "Liberation Sans", "fontSize": 28, "color": "#1a1a1a"},
 "encoding": {
  "x": {"field": "mu", "type": "quantitative", "scale": {"domain": [0, 1200], "range": [1218, 2050], "nice": false, "zero": false}, "axis": null},
  "y": {"field": "T", "type": "quantitative", "scale": {"domain": [0, 230], "range": [826, 14], "nice": false, "zero": false}, "axis": null},
  "text": {"field": "label"}}},
{"data": {"values": [{"mu": -603.0, "T": 110, "mu2": -817.8, "T2": 193.8}, {"mu": -42.7, "T": 110, "mu2": 138.5, "T2": 147.6}]},
 "mark": {"type": "rule", "color": "#C4F8F8", "strokeWidth": 18, "strokeCap": "butt"},
 "encoding": {
  "x": {"field": "mu", "type": "quantitative", "scale": {"domain": [0, 1200], "range": [1218, 2050], "nice": false, "zero": false}, "axis": null},
  "x2": {"field": "mu2"},
  "y": {"field": "T", "type": "quantitative", "scale": {"domain": [0, 230], "range": [826, 14], "nice": false, "zero": false}, "axis": null},
  "y2": {"field": "T2"}}},
{"data": {"values": [{"mu": -832.2, "T": 199.1}]}, "mark": {"type": "point", "shape": "M0,-1L0.7,1L-0.7,1Z", "size": 3181, "angle": 332.5, "filled": true, "color": "#C4F8F8", "opacity": 1},
 "encoding": {
  "x": {"field": "mu", "type": "quantitative", "scale": {"domain": [0, 1200], "range": [1218, 2050], "nice": false, "zero": false}, "axis": null},
  "y": {"field": "T", "type": "quantitative", "scale": {"domain": [0, 230], "range": [826, 14], "nice": false, "zero": false}, "axis": null}}},
{"data": {"values": [{"mu": 163.0, "T": 152.4}]}, "mark": {"type": "point", "shape": "M0,-1L0.7,1L-0.7,1Z", "size": 3434, "angle": 43.5, "filled": true, "color": "#C4F8F8", "opacity": 1},
 "encoding": {
  "x": {"field": "mu", "type": "quantitative", "scale": {"domain": [0, 1200], "range": [1218, 2050], "nice": false, "zero": false}, "axis": null},
  "y": {"field": "T", "type": "quantitative", "scale": {"domain": [0, 230], "range": [826, 14], "nice": false, "zero": false}, "axis": null}}},
{"data": {"values": [{"mu": -764.4, "mu2": 49.0, "T": 116.7, "T2": 42.5}]}, "mark": {"type": "rect", "fill": "#CCFFFF", "stroke": "#333", "strokeWidth": 1.5},
 "encoding": {
  "x": {"field": "mu", "type": "quantitative", "scale": {"domain": [0, 1200], "range": [1218, 2050], "nice": false, "zero": false}, "axis": null},
  "x2": {"field": "mu2"},
  "y": {"field": "T", "type": "quantitative", "scale": {"domain": [0, 230], "range": [826, 14], "nice": false, "zero": false}, "axis": null},
  "y2": {"field": "T2"}}},
{"data": {"values": [{"mu": -594.2, "T": 98.6, "label": "T"}, {"mu": -418.6, "T": 98.6, "label": "saturates"}, {"mu": -747.1, "T": 74.5, "label": "appears to happen at T"}, {"mu": -520.1, "T": 51.3, "label": "not trivial"}]},
 "mark": {"type": "text", "align": "left", "baseline": "alphabetic", "font": "Liberation Serif", "fontWeight": "bold", "fontSize": 53, "color": "#000"},
 "encoding": {
  "x": {"field": "mu", "type": "quantitative", "scale": {"domain": [0, 1200], "range": [1218, 2050], "nice": false, "zero": false}, "axis": null},
  "y": {"field": "T", "type": "quantitative", "scale": {"domain": [0, 230], "range": [826, 14], "nice": false, "zero": false}, "axis": null},
  "text": {"field": "label"}}},
{"data": {"values": [{"mu": -542.9, "T": 92.9, "label": "chem"}, {"mu": 16.0, "T": 68.3, "label": "c"}]},
 "mark": {"type": "text", "align": "left", "baseline": "alphabetic", "font": "Liberation Serif", "fontWeight": "bold", "fontSize": 32, "color": "#000"},
 "encoding": {
  "x": {"field": "mu", "type": "quantitative", "scale": {"domain": [0, 1200], "range": [1218, 2050], "nice": false, "zero": false}, "axis": null},
  "y": {"field": "T", "type": "quantitative", "scale": {"domain": [0, 230], "range": [826, 14], "nice": false, "zero": false}, "axis": null},
  "text": {"field": "label"}}}
]
}
]
}
